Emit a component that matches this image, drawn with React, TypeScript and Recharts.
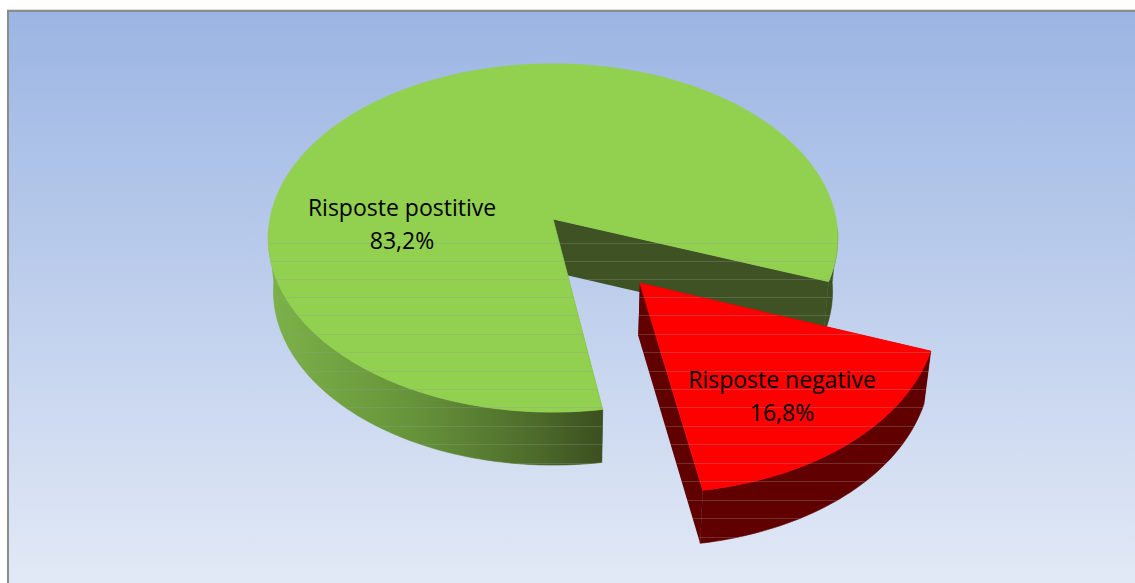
import { PieChart, Pie } from 'recharts'

const categories = ['Risposte postitive', 'Risposte negative']
const values = [83.2, 16.8]
const valueLabels = ['83,2%', '16,8%']
const topColors = ['#92d050', '#ff0000']
const cutColors = ['#3e5223', '#600000']
const wallColors = ['url(#greenWall)', '#600000']

const data = categories.map((name, i) => ({
  name,
  value: values[i],
  fill: topColors[i],
}))

// perspective of the disc, fitted by eye on the reference
const TILT = 0.608
const PERSPECTIVE = 0.109
const DEPTH = 53
const BOTTOM_SCALE = 0.982
// where the slice is pulled out to, in disc units
const explodes = [{ u: 0, v: 0 }, { u: 0.295, v: 0.358 }]
const labelAnchors = [{ x: 402, y: 216 }, { x: 782, y: 388 }]
// the reference has faint scan lines across the pie only
const seamRows = [243, 261, 279, 297, 315, 334, 352, 371, 389, 407, 426, 444, 463, 481, 500, 518, 537]

const rad = (deg: number) => (deg * Math.PI) / 180

const Slice3D = (props: any) => {
  const { cx, cy, outerRadius: r, startAngle, endAngle, index } = props
  const ex = explodes[index]

  const project = (u: number, v: number, bottom: boolean) => {
    const uu = u + ex.u
    const vv = v + ex.v
    const w = 1 - PERSPECTIVE * vv
    const kx = bottom ? BOTTOM_SCALE : 1
    return [cx + (kx * r * uu) / w, cy + (bottom ? DEPTH : 0) + (TILT * r * vv) / w]
  }

  const angles: number[] = []
  for (let a = startAngle; a < endAngle; a += 1) angles.push(a)
  angles.push(endAngle)

  const rimPoint = (a: number, bottom: boolean) =>
    project(Math.cos(rad(a)), -Math.sin(rad(a)), bottom)

  const toPath = (pts: number[][]) =>
    'M' + pts.map(p => `${p[0].toFixed(1)},${p[1].toFixed(1)}`).join('L') + 'Z'

  // the back of the rim is hidden, so walls only run along the front
  const runs: number[][] = []
  let run: number[] = []
  angles.forEach(a => {
    if (Math.sin(rad(a)) < -0.05) {
      run.push(a)
    } else if (run.length) {
      runs.push(run)
      run = []
    }
  })
  if (run.length) runs.push(run)

  const wallPaths = runs.map(part =>
    toPath([
      ...part.map(a => rimPoint(a, false)),
      ...[...part].reverse().map(a => rimPoint(a, true)),
    ])
  )

  const apexTop = project(0, 0, false)
  const apexBottom = project(0, 0, true)
  const cutPaths = [angles[0], angles[angles.length - 1]].map(a =>
    toPath([apexTop, rimPoint(a, false), rimPoint(a, true), apexBottom])
  )
  const topPath = toPath([apexTop, ...angles.map(a => rimPoint(a, false))])
  const clipId = `slice-clip-${index}`

  return (
    <g>
      <defs>
        <linearGradient id="greenWall" gradientUnits="userSpaceOnUse" x1={272} y1={0} x2={600} y2={0}>
          <stop offset="0" stopColor="#7cb148" />
          <stop offset="0.45" stopColor="#659239" />
          <stop offset="0.8" stopColor="#4d6b2a" />
          <stop offset="1" stopColor="#3c5020" />
        </linearGradient>
        <clipPath id={clipId}>
          {[...wallPaths, ...cutPaths, topPath].map((d, i) => (
            <path key={i} d={d} />
          ))}
        </clipPath>
      </defs>
      {cutPaths.map((d, i) => (
        <path key={i} d={d} fill={cutColors[index]} />
      ))}
      {wallPaths.map((d, i) => (
        <path key={i} d={d} fill={wallColors[index]} stroke={wallColors[index]} strokeWidth={0.6} />
      ))}
      <path d={topPath} fill={topColors[index]} stroke={topColors[index]} strokeWidth={0.8} />
      <g clipPath={`url(#${clipId})`}>
        {seamRows.map(y => (
          <line key={y} x1={0} x2={1135} y1={y + 0.5} y2={y + 0.5} stroke="#999" strokeOpacity={0.3} />
        ))}
      </g>
    </g>
  )
}

const renderLabel = (props: any) => {
  const { index } = props
  const at = labelAnchors[index]
  return (
    <text
      x={at.x}
      y={at.y}
      textAnchor="middle"
      fontFamily="'Open Sans', sans-serif"
      fontSize={23}
      fill="#000"
    >
      <tspan x={at.x} y={at.y}>{categories[index]}</tspan>
      <tspan x={at.x} y={at.y + 33}>{valueLabels[index]}</tspan>
    </text>
  )
}

export default function App() {
  return (
    <div style={{ position: 'absolute', left: 0, top: 0, width: 1135, height: 583, overflow: 'hidden', background: '#fff' }}>
      <div
        style={{
          position: 'absolute',
          left: 7,
          top: 10,
          right: 0,
          bottom: 0,
          borderLeft: '2px solid #8c8c8c',
          borderTop: '2px solid #8c8c8c',
          boxShadow: '0 -1px 0 #ddd',
          background: 'linear-gradient(180deg, #9bb5e3 0%, #e2e9f6 100%)',
        }}
      />
      <div style={{ position: 'absolute', left: 0, top: 0 }}>
        <PieChart width={1135} height={583} margin={{ top: 0, right: 0, bottom: 0, left: 0 }}>
          <Pie
            data={data}
            dataKey="value"
            nameKey="name"
            cx={553}
            cy={219}
            outerRadius={283}
            startAngle={-20.5}
            endAngle={339.5}
            stroke="none"
            shape={Slice3D}
            label={renderLabel}
            labelLine={false}
            isAnimationActive={false}
          />
        </PieChart>
      </div>
    </div>
  )
}
